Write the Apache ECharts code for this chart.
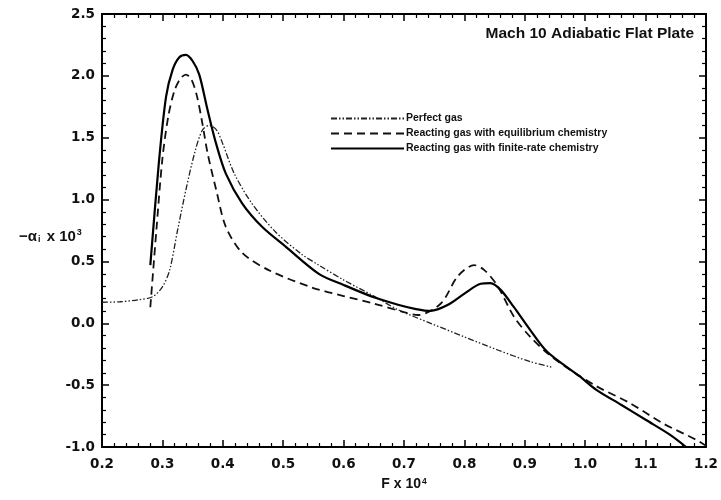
<!DOCTYPE html>
<html>
<head>
<meta charset="utf-8">
<script src="https://cdn.jsdelivr.net/npm/echarts@6/dist/echarts.min.js"></script>
<style>
  html, body { margin: 0; padding: 0; background: #fff; }
  #chart { width: 721px; height: 500px; }
</style>
</head>
<body>
<div id="chart"></div>
<script>
// Growth rate of the disturbance vs. frequency parameter, Mach 10 adiabatic flat plate
const xTicks = [0.2, 0.3, 0.4, 0.5, 0.6, 0.7, 0.8, 0.9, 1.0, 1.1, 1.2];
const yTicks = [-1.0, -0.5, 0.0, 0.5, 1.0, 1.5, 2.0, 2.5];

const seriesNames = [
  'Perfect gas',
  'Reacting gas with equilibrium chemistry',
  'Reacting gas with finite-rate chemistry'
];

const perfectX = [0.2, 0.23, 0.26, 0.284, 0.30, 0.312, 0.325, 0.339, 0.353, 0.366, 0.378, 0.39, 0.40, 0.419, 0.448, 0.487, 0.53, 0.559, 0.6, 0.65, 0.69, 0.744, 0.80, 0.855, 0.909, 0.945];
const perfectY = [0.17, 0.174, 0.19, 0.215, 0.295, 0.43, 0.75, 1.08, 1.37, 1.56, 1.60, 1.56, 1.45, 1.21, 0.97, 0.74, 0.56, 0.47, 0.35, 0.22, 0.11, 0.0, -0.11, -0.216, -0.31, -0.355];

const equilX = [0.28, 0.29, 0.30, 0.31, 0.32, 0.33, 0.339, 0.348, 0.357, 0.366, 0.375, 0.389, 0.405, 0.432, 0.476, 0.547, 0.6, 0.65, 0.7, 0.723, 0.761, 0.789, 0.816, 0.833, 0.855, 0.882, 0.909, 0.937, 0.97, 1.019, 1.074, 1.129, 1.183, 1.2];
const equilY = [0.13, 0.75, 1.33, 1.68, 1.88, 1.98, 2.01, 1.97, 1.84, 1.62, 1.37, 1.08, 0.78, 0.57, 0.43, 0.29, 0.22, 0.16, 0.09, 0.067, 0.16, 0.38, 0.47, 0.43, 0.30, 0.053, -0.11, -0.24, -0.36, -0.51, -0.645, -0.81, -0.94, -0.99];

const finiteX = [0.28, 0.294, 0.306, 0.317, 0.328, 0.339, 0.35, 0.361, 0.374, 0.389, 0.405, 0.432, 0.465, 0.504, 0.559, 0.6, 0.65, 0.69, 0.72, 0.744, 0.772, 0.80, 0.827, 0.843, 0.86, 0.882, 0.909, 0.937, 0.991, 1.019, 1.06, 1.10, 1.14, 1.167];
const finiteY = [0.47, 1.29, 1.83, 2.05, 2.15, 2.17, 2.12, 2.01, 1.74, 1.45, 1.21, 0.97, 0.78, 0.62, 0.40, 0.31, 0.21, 0.15, 0.115, 0.10, 0.147, 0.24, 0.32, 0.325, 0.27, 0.13, -0.055, -0.23, -0.43, -0.54, -0.66, -0.78, -0.90, -1.0];

const pairs = (xs, ys) => xs.map((x, i) => [x, ys[i]]);

const FONT = 'Liberation Sans, Arial, sans-serif';
const TICK_FONT = 'DejaVu Sans, sans-serif';

const tickCommon = {
  axisLine: { show: true, onZero: false, lineStyle: { color: '#000', width: 2 } },
  axisTick: { show: true, inside: true, length: 7, lineStyle: { color: '#000', width: 1.5 } },
  minorTick: { show: true, splitNumber: 5, length: 4, lineStyle: { color: '#000', width: 1.2 } },
  splitLine: { show: false }
};

const chart = echarts.init(document.getElementById('chart'), null, { renderer: 'canvas' });

chart.setOption({
  backgroundColor: '#fff',
  animation: false,
  title: {
    text: 'Mach 10 Adiabatic Flat Plate',
    right: 27,
    top: 26,
    padding: 0,
    textStyle: { fontFamily: FONT, fontSize: 15.5, fontWeight: 'bold', color: '#111' }
  },
  legend: {
    orient: 'vertical',
    left: 330,
    top: 113,
    padding: 0,
    itemWidth: 73,
    itemHeight: 11,
    itemGap: 4,
    selectedMode: false,
    data: seriesNames,
    itemStyle: { opacity: 0 },
    textStyle: { fontFamily: FONT, fontSize: 10.5, fontWeight: 'bold', color: '#111', padding: [0, 0, 0, -3] }
  },
  grid: { left: 102, right: 11, top: 14, bottom: 53, containLabel: false },
  xAxis: [
    Object.assign({
      type: 'value', position: 'bottom',
      min: xTicks[0], max: xTicks[xTicks.length - 1], interval: 0.1,
      axisLabel: {
        show: true, margin: 10, color: '#111',
        fontFamily: TICK_FONT, fontSize: 13.5, fontWeight: 'bold',
        formatter: v => v.toFixed(1)
      },
      name: '{t|F x 10}{s|4}',
      nameLocation: 'middle',
      nameGap: 30,
      nameTextStyle: {
        rich: {
          t: { fontFamily: FONT, fontSize: 14, fontWeight: 'bold', color: '#111' },
          s: { fontFamily: FONT, fontSize: 8.5, fontWeight: 'bold', color: '#111', verticalAlign: 'top', padding: [0, 0, 6, 1] }
        }
      }
    }, tickCommon),
    Object.assign({
      type: 'value', position: 'top',
      min: xTicks[0], max: xTicks[xTicks.length - 1], interval: 0.1,
      axisLabel: { show: false }
    }, tickCommon)
  ],
  yAxis: [
    Object.assign({
      type: 'value', position: 'left',
      min: yTicks[0], max: yTicks[yTicks.length - 1], interval: 0.5,
      axisLabel: {
        show: true, margin: 7, color: '#111',
        fontFamily: TICK_FONT, fontSize: 13.5, fontWeight: 'bold',
        formatter: v => v.toFixed(1)
      }
    }, tickCommon),
    Object.assign({
      type: 'value', position: 'right',
      min: yTicks[0], max: yTicks[yTicks.length - 1], interval: 0.5,
      axisLabel: { show: false }
    }, tickCommon)
  ],
  graphic: [
    {
      type: 'text',
      left: 19,
      top: 228,
      style: {
        text: '{t|−α}{sub|i}{t| x 10}{sup|3}',
        rich: {
          t: { fontFamily: FONT, fontSize: 15, fontWeight: 'bold', fill: '#111' },
          sub: { fontFamily: FONT, fontSize: 9, fontWeight: 'bold', fill: '#111', padding: [7, 2, 0, 1] },
          sup: { fontFamily: FONT, fontSize: 9, fontWeight: 'bold', fill: '#111', padding: [0, 0, 8, 1] }
        }
      }
    }
  ],
  series: [
    {
      name: seriesNames[0], type: 'line', symbol: 'none', smooth: 0.3,
      data: pairs(perfectX, perfectY),
      lineStyle: { color: '#222', width: 1.3, type: [6, 2, 1.5, 2, 1.5, 2] },
      itemStyle: { color: '#222' }
    },
    {
      name: seriesNames[1], type: 'line', symbol: 'none', smooth: 0.3,
      data: pairs(equilX, equilY),
      lineStyle: { color: '#111', width: 1.8, type: [8, 5] },
      itemStyle: { color: '#111' }
    },
    {
      name: seriesNames[2], type: 'line', symbol: 'none', smooth: 0.3,
      data: pairs(finiteX, finiteY),
      lineStyle: { color: '#000', width: 2.2, type: 'solid' },
      itemStyle: { color: '#000' }
    }
  ]
});
</script>
</body>
</html>
